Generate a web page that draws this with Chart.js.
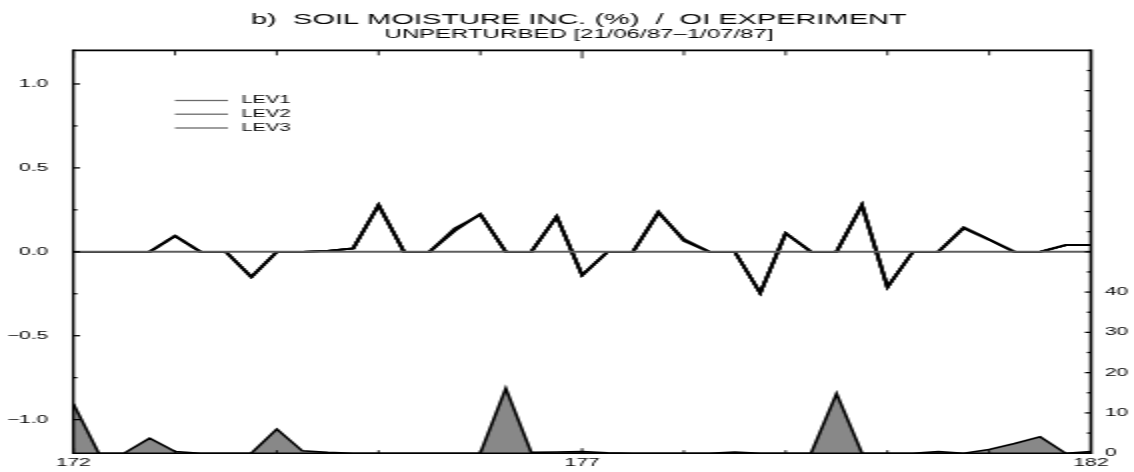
<!DOCTYPE html>
<html><head><meta charset="utf-8">
<script src="https://cdn.jsdelivr.net/npm/chart.js@4/dist/chart.umd.min.js"></script>
<style>html,body{margin:0;padding:0;background:#fff;overflow:hidden}
#c{display:block}</style>
</head><body>
<canvas id="c" width="567" height="472" style="width:1134px;height:472px"></canvas>
<script>
const TITLE = 'b)  SOIL MOISTURE INC. (%)  /  OI EXPERIMENT';
const SUBTITLE = 'UNPERTURBED [21/06/87\u20131/07/87]';

const days = [172,172.25,172.5,172.75,173,173.25,173.5,173.75,174,174.25,174.5,174.75,
  175,175.25,175.5,175.75,176,176.25,176.5,176.75,177,177.25,177.5,177.75,
  178,178.25,178.5,178.75,179,179.25,179.5,179.75,180,180.25,180.5,180.75,
  181,181.25,181.5,181.75,182];

const lev1 = [0,0,0,0,0.095,0,0,-0.15,0,0,0.005,0.02,0.28,0,0,0.13,0.225,0,0,0.21,-0.14,
  0,0,0.235,0.07,0,0,-0.245,0.11,0,0,0.28,-0.21,0,0,0.145,0.072,0,0,0.04,0.04];
const lev2 = [0,0,0,0,0.095,0,0,-0.15,0,0,0.005,0.02,0.275,0,0,0.14,0.22,0,0,0.21,-0.14,
  0,0,0.23,0.075,0,0,-0.245,0.11,0,0,0.275,-0.21,0,0,0.14,0.072,0,0,0.04,0.04];
const lev3 = [0,0,0,0,0.095,0,0,-0.15,0,0,0.005,0.02,0.28,0,0,0.125,0.225,0,0,0.21,-0.14,
  0,0,0.24,0.065,0,0,-0.245,0.11,0,0,0.28,-0.21,0,0,0.145,0.072,0,0,0.04,0.04];
const shaded = [12.3,0,0,3.7,0.4,0,0,0,6.0,0.6,0.2,0,0,0,0,0,0,16.1,0.2,0.3,0.4,
  0.1,0,0,0,0,0.3,0,0,0,14.8,0,0,0,0.4,0,0.9,2.4,4.1,0,0.4];

const xTickLabels = [172,177,182];
const xMinorTicks = [172,173,174,175,176,177,178,179,180,181,182];
const leftTickLabels = [-1,-0.5,0,0.5,1];
const leftMinorTicks = [-1,-0.75,-0.5,-0.25,0,0.25,0.5,0.75,1];
const rightTickLabels = [0,10,20,30,40];
const rightMinorTicks = [0,5,10,15,20,25,30,35,40,45,50,55,60,65,70,75,80,85,90,95];
const legendLabels = ['LEV1','LEV2','LEV3'];

const FONT = "'Liberation Sans', Arial, Helvetica, sans-serif";
const pts = arr => arr.map((v,i) => ({x: days[i], y: v}));

function ln(ctx,x1,y1,x2,y2){ctx.beginPath();ctx.moveTo(x1,y1);ctx.lineTo(x2,y2);ctx.stroke();}

const frameTicks = {
  id: 'frameTicks',
  afterDatasetsDraw(chart) {
    const {ctx, chartArea: a, scales} = chart;
    const x = scales.x, y = scales.y, y2 = scales.y2;
    ctx.save();
    ctx.lineCap = 'butt';
    ctx.strokeStyle = '#5e5e5e'; ctx.lineWidth = 2;
    const y0 = y.getPixelForValue(0);
    ln(ctx, a.left, y0, a.right, y0);
    ctx.strokeStyle = '#000';
    ctx.lineWidth = 1.6; ln(ctx, a.left, a.top, a.right, a.top);
    ctx.lineWidth = 1.4; ln(ctx, a.left, a.bottom, a.right, a.bottom);
    ctx.lineWidth = 1.4; ln(ctx, a.left, a.top-0.8, a.left, a.bottom+0.7);
    ctx.lineWidth = 1.6; ln(ctx, a.right, a.top-0.8, a.right, a.bottom+0.7);
    ctx.lineWidth = 1.3;
    leftMinorTicks.forEach(v => {
      const py = y.getPixelForValue(v);
      const len = leftTickLabels.includes(v) ? 3.4 : 2;
      ln(ctx, a.left, py, a.left + len, py);
    });
    rightMinorTicks.forEach(v => {
      const py = y2.getPixelForValue(v);
      const len = (v % 10 === 0) ? 3 : 2;
      ln(ctx, a.right - len, py, a.right, py);
    });
    ctx.lineWidth = 0.9;
    xMinorTicks.forEach(v => {
      const px = x.getPixelForValue(v);
      const major = xTickLabels.includes(v);
      ln(ctx, px, a.top, px, a.top + (major ? 8 : 5));
      ln(ctx, px, a.bottom, px, a.bottom - (major ? 5 : 3));
    });
    ctx.restore();
  },
  afterDraw(chart) {
    const {ctx} = chart;
    ctx.save();
    ctx.font = '10px ' + FONT;
    ctx.textBaseline = 'middle';
    ctx.textAlign = 'left';
    const rows = [100.5, 114.2, 128];
    legendLabels.forEach((lab, i) => {
      ctx.strokeStyle = '#6a6a6a';
      ctx.lineWidth = 1.3;
      ln(ctx, 87.5, rows[i], 114, rows[i]);
      ctx.fillStyle = '#000';
      ctx.fillText(lab, 120.8, rows[i]);
    });
    ctx.restore();
  }
};

const lineDs = (label, data) => ({
  label, data: pts(data), yAxisID: 'y', borderColor: '#000', borderWidth: 1.8,
  pointRadius: 0, tension: 0, fill: false, borderJoinStyle: 'miter'
});

new Chart(document.getElementById('c'), {
  type: 'line',
  data: {
    datasets: [
      lineDs(legendLabels[0], lev1),
      lineDs(legendLabels[1], lev2),
      lineDs(legendLabels[2], lev3),
      { label: 'shaded', data: pts(shaded), yAxisID: 'y2', borderColor: '#000', borderWidth: 1.6,
        backgroundColor: '#888888', fill: 'origin', pointRadius: 0, tension: 0 }
    ]
  },
  options: {
    responsive: false, animation: false, devicePixelRatio: 1, events: [],
    layout: { padding: { left: 0, right: -12, top: 0, bottom: 0 } },
    plugins: {
      legend: { display: false },
      tooltip: { enabled: false },
      title: { display: true, text: TITLE, color: '#000',
        font: { family: FONT, size: 14.5, weight: 'normal', lineHeight: 0.8 },
        padding: { top: 14.4, bottom: 0 } },
      subtitle: { display: true, text: SUBTITLE, color: '#000',
        font: { family: FONT, size: 12, weight: 'normal', lineHeight: 1 },
        padding: { top: 3, bottom: 9.4 } }
    },
    scales: {
      x: { type: 'linear', position: 'bottom', min: 172, max: 182,
        grid: { display: false, drawTicks: false }, border: { display: false },
        afterBuildTicks: s => { s.ticks = xTickLabels.map(v => ({value: v})); },
        afterFit: s => { s.height = 18.7; },
        ticks: { color: '#000', font: { family: FONT, size: 10.5 }, padding: 3.4,
          maxRotation: 0, autoSkip: false, callback: v => String(v) } },
      y: { position: 'left', min: -1.2, max: 1.2,
        grid: { display: false, drawTicks: false }, border: { display: false },
        afterBuildTicks: s => { s.ticks = leftTickLabels.map(v => ({value: v})); },
        afterFit: s => { s.width = 36.65; },
        ticks: { color: '#000', font: { family: FONT, size: 10.5 }, padding: 12.5,
          callback: v => (v < 0 ? '\u2212' : '') + Math.abs(v).toFixed(1) } },
      y2: { position: 'right', min: 0, max: 100,
        grid: { display: false, drawTicks: false }, border: { display: false },
        afterBuildTicks: s => { s.ticks = rightTickLabels.map(v => ({value: v})); },
        afterFit: s => { s.width = 33.5; },
        ticks: { color: '#000', font: { family: FONT, size: 10.5 }, padding: 7,
          callback: v => String(v) } }
    }
  },
  plugins: [frameTicks]
});
</script>
</body></html>
